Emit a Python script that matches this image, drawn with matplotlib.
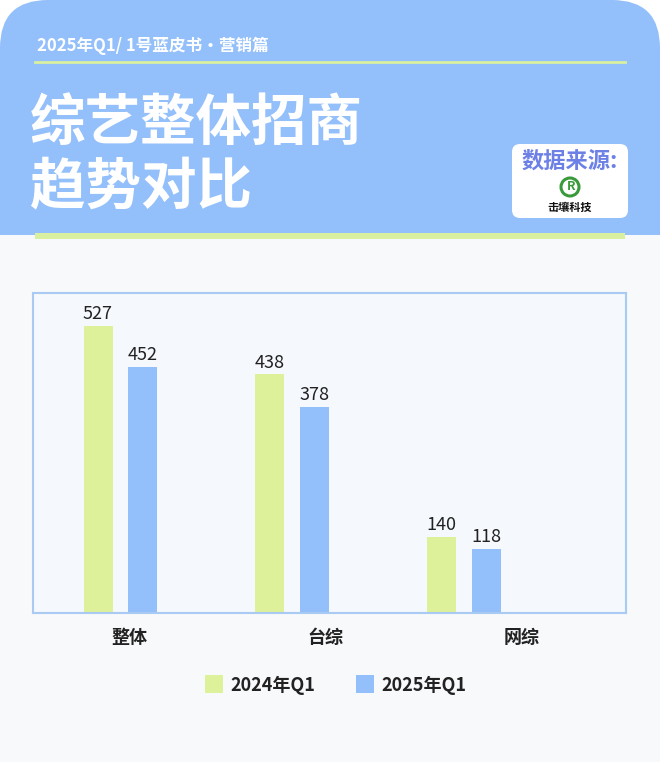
import matplotlib.pyplot as plt
from matplotlib.patches import FancyBboxPatch, Rectangle, Circle
import numpy as np

plt.rcParams['font.family'] = ['Noto Sans CJK SC', 'DejaVu Sans']

categories = ["整体", "台综", "网综"]
series_names = ["2024年Q1", "2025年Q1"]
values_2024 = [527, 438, 140]
values_2025 = [452, 378, 118]

GREEN = "#DDF09A"
BLUE = "#93BFFA"
HEADER = "#93BFFA"
BG = "#F8F9FB"

fig = plt.figure(figsize=(6.6, 7.62), dpi=100)
fig.patch.set_facecolor("white")

# background layer in pixel coords
bg = fig.add_axes([0, 0, 1, 1], zorder=0)
bg.set_xlim(0, 660)
bg.set_ylim(762, 0)
bg.axis("off")

bg.add_patch(FancyBboxPatch((0, 0), 660, 320, boxstyle="round,pad=0,rounding_size=48",
                            facecolor=HEADER, edgecolor="none", zorder=1))
bg.add_patch(Rectangle((0, 235), 660, 527, facecolor=BG, edgecolor="none", zorder=2))

bg.text(37, 46, "2025年Q1/ 1号蓝皮书·营销篇", color="white", fontsize=12,
        fontweight="bold", va="center", ha="left", zorder=3)
bg.plot([35, 625], [62, 62], color="#D8F0A0", lw=2, zorder=3)
bg.text(30, 124, "综艺整体招商", color="white", fontsize=40, fontweight="heavy",
        va="center", ha="left", zorder=3)
bg.text(30, 188, "趋势对比", color="white", fontsize=40, fontweight="heavy",
        va="center", ha="left", zorder=3)

# data source card
bg.add_patch(FancyBboxPatch((512, 144), 116, 74, boxstyle="round,pad=0,rounding_size=8",
                            facecolor="white", edgecolor="none", zorder=3))
bg.text(570, 161, "数据来源:", color="#6D80E6", fontsize=16, fontweight="heavy",
        va="center", ha="center", zorder=4)
bg.add_patch(Circle((570, 187), 9, facecolor="none", edgecolor="#3A9A3A", lw=2.2, zorder=4))
bg.text(571, 187, "R", color="#3A9A3A", fontsize=9, fontweight="bold",
        va="center", ha="center", zorder=5)
bg.text(570, 207, "击壤科技", color="#111111", fontsize=8, fontweight="heavy",
        va="center", ha="center", zorder=4)

bg.add_patch(Rectangle((35, 233), 590, 6, facecolor="#D8F0A0", edgecolor="none", zorder=4))

# chart
ax = fig.add_axes([33 / 660, (762 - 613) / 762, 593 / 660, 320 / 762], zorder=2)
ax.set_facecolor("#F5F8FD")
x = np.arange(len(categories))
w = 0.169
off = 0.131
b1 = ax.bar(x - off, values_2024, w, color=GREEN, zorder=2)
b2 = ax.bar(x + off, values_2025, w, color=BLUE, zorder=2)
for bars, vals in ((b1, values_2024), (b2, values_2025)):
    for r, v in zip(bars, vals):
        ax.text(r.get_x() + r.get_width() / 2, v + 5, str(v), ha="center", va="bottom",
                fontsize=13, color="#222222")
ax.set_xlim(-0.51, 2.947)
ax.set_ylim(0, 587)
ax.set_xticks([])
ax.set_yticks([])
for s in ax.spines.values():
    s.set_color("#A9CBF3")
    s.set_linewidth(1.5)

# category labels
for i, c in enumerate(categories):
    ax.text(i * 1.145 + 0.05, -45, c, ha="center", va="center", fontsize=13,
            fontweight="bold", color="#222222", clip_on=False)

# legend
for sx, name, col in ((205, series_names[0], GREEN), (356, series_names[1], BLUE)):
    bg.add_patch(Rectangle((sx, 675), 18, 18, facecolor=col, edgecolor="none", zorder=3))
    bg.text(sx + 25, 685, name, ha="left", va="center", fontsize=13,
            fontweight="bold", color="#222222", zorder=3)

fig.savefig("out.png", dpi=100)
